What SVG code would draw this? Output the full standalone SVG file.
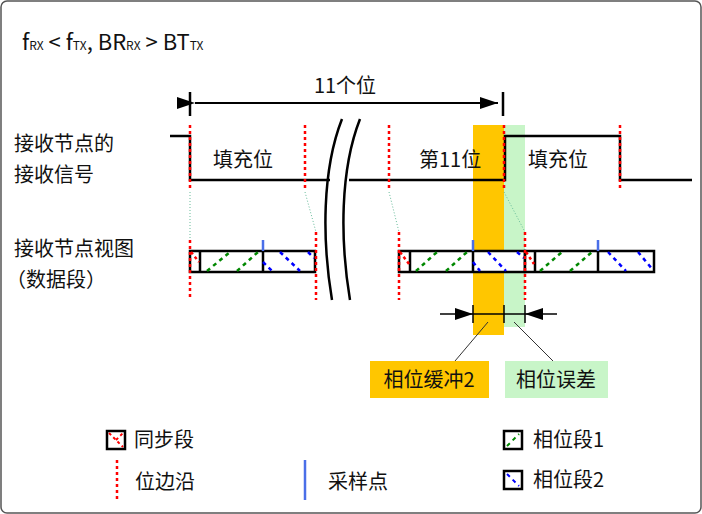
<svg xmlns="http://www.w3.org/2000/svg" width="702" height="514" viewBox="0 0 702 514">
<style>
text{font-family:"Noto Sans CJK SC","Noto Sans",sans-serif;fill:#111}
.t{font-size:20px}
.edge{stroke:#f00;stroke-width:2.5;stroke-dasharray:3 3;fill:none}
.box{fill:#fff;stroke:#000;stroke-width:2.5}
.sep{stroke:#000;stroke-width:2.5}
.g{stroke:#080;stroke-width:2.5;stroke-dasharray:4 4}
.b{stroke:#00f;stroke-width:2.5;stroke-dasharray:4 4}
.r{stroke:#f00;stroke-width:2.5;stroke-dasharray:3 3}
.samp{stroke:#4a6fe8;stroke-width:2.5}
.gd{stroke:#6b9;stroke-width:1;stroke-dasharray:1 2}
.sig{stroke:#000;stroke-width:2.5;fill:none}
</style>
<defs>
<marker id="ab" markerWidth="18" markerHeight="12" refX="18" refY="6" orient="auto" markerUnits="userSpaceOnUse"><path d="M0,0L18,6L0,12z" fill="#000"/></marker>
</defs>
<rect x="1" y="1" width="700" height="512" rx="6" fill="#fff" stroke="#555" stroke-width="1.5"/>
<text x="22" y="50" style="font-size:22px">f<tspan font-size="12">RX</tspan> &lt; f<tspan font-size="12">TX</tspan>, BR<tspan font-size="12">RX</tspan> &gt; BT<tspan font-size="12">TX</tspan></text>
<g id="labels">
<text class="t" x="14" y="151">接收节点的</text>
<text class="t" x="14" y="182">接收信号</text>
<text class="t" x="14" y="256">接收节点视图</text>
<text class="t" x="6" y="287">（数据段）</text>
</g>
<g id="bands">
<rect x="473" y="125" width="31" height="210" fill="#ffc600"/>
<rect x="504" y="125" width="21" height="202" fill="#c8f5c8"/>
</g>
<g id="signal">
<path class="sig" d="M170,136H190V180H330M349,180H505V136H620V180H692"/>
<text class="t" x="213" y="167">填充位</text>
<text class="t" x="419" y="167">第11位</text>
<text class="t" x="528" y="167">填充位</text>
</g>
<g id="break">
<path d="M342,119C322,170 322,240 332,300" fill="none" stroke="#000" stroke-width="2.5"/>
<path d="M360,119C340,170 340,240 350,300" fill="none" stroke="#000" stroke-width="2.5"/>
</g>
<g id="span11">
<line class="sep" x1="190" y1="92" x2="190" y2="116"/>
<line class="sep" x1="503" y1="92" x2="503" y2="116"/>
<line class="sep" x1="195" y1="103" x2="498" y2="103" marker-start="url(#ab)" marker-end="url(#ab)" style="stroke-width:2"/>
<text x="345" y="93" text-anchor="middle" style="font-size:20px">11个位</text>
</g>
<g id="bit1">
<rect class="box" x="190" y="251" width="125" height="21"/>
<line class="sep" x1="200" y1="251" x2="200" y2="272"/><line class="sep" x1="263" y1="251" x2="263" y2="272"/>
<line class="r" x1="191" y1="252" x2="199" y2="262"/>
<line class="g" x1="207" y1="271" x2="230" y2="252"/><line class="g" x1="237" y1="271" x2="258" y2="252"/>
<line class="b" x1="263" y1="262" x2="272" y2="271"/><line class="b" x1="280" y1="252" x2="300" y2="271"/><line class="b" x1="308" y1="252" x2="314" y2="258"/>
</g>
<g id="bit2">
<rect class="box" x="399" y="251" width="126" height="21"/>
<line class="sep" x1="410" y1="251" x2="410" y2="272"/><line class="sep" x1="473" y1="251" x2="473" y2="272"/>
<line class="r" x1="400" y1="252" x2="409" y2="264"/>
<line class="g" x1="416" y1="271" x2="437" y2="252"/><line class="g" x1="446" y1="271" x2="467" y2="252"/>
<line class="b" x1="473" y1="262" x2="480" y2="271"/><line class="b" x1="488" y1="252" x2="506" y2="271"/><line class="b" x1="517" y1="252" x2="524" y2="258"/>
</g>
<g id="bit3">
<rect class="box" x="525" y="251" width="129" height="21"/>
<line class="sep" x1="535" y1="251" x2="535" y2="272"/><line class="sep" x1="598" y1="251" x2="598" y2="272"/>
<line class="r" x1="526" y1="252" x2="534" y2="264"/>
<line class="g" x1="540" y1="271" x2="562" y2="252"/><line class="g" x1="570" y1="271" x2="592" y2="252"/>
<line class="b" x1="608" y1="252" x2="626" y2="271"/><line class="b" x1="638" y1="252" x2="653" y2="270"/>
</g>
<g id="edges">
<line class="edge" x1="190" y1="125" x2="190" y2="190"/>
<line class="edge" x1="305" y1="125" x2="305" y2="190"/>
<line class="edge" x1="389" y1="125" x2="389" y2="190"/>
<line class="edge" x1="504" y1="125" x2="504" y2="190"/>
<line class="edge" x1="620" y1="125" x2="620" y2="190"/>
<line class="edge" x1="190" y1="240" x2="190" y2="300"/>
<line class="edge" x1="316" y1="232" x2="316" y2="300"/>
<line class="edge" x1="399" y1="232" x2="399" y2="300"/>
<line class="edge" x1="525" y1="232" x2="525" y2="300"/>
<line class="samp" x1="263" y1="240" x2="263" y2="251"/>
<line class="samp" x1="473" y1="240" x2="473" y2="251"/>
<line class="samp" x1="598" y1="240" x2="598" y2="251"/>
</g>
<g id="connectors">
<line class="gd" x1="190" y1="192" x2="190" y2="240"/>
<line class="gd" x1="305" y1="192" x2="316" y2="232"/>
<line class="gd" x1="389" y1="192" x2="399" y2="232"/>
<line class="gd" x1="504" y1="192" x2="525" y2="232"/>
<line stroke="#000" stroke-width="1.5" x1="473" y1="305" x2="473" y2="323"/>
<line stroke="#000" stroke-width="1.5" x1="504" y1="305" x2="504" y2="323"/>
<line stroke="#000" stroke-width="1.5" x1="525" y1="305" x2="525" y2="323"/>
<line stroke="#000" stroke-width="1.5" x1="440" y1="314" x2="473" y2="314" marker-end="url(#ab)"/>
<line stroke="#000" stroke-width="1.5" x1="473" y1="314" x2="525" y2="314"/>
<line stroke="#000" stroke-width="1.5" x1="557" y1="314" x2="525" y2="314" marker-end="url(#ab)"/>
<line stroke="#333" stroke-width="1" x1="488" y1="322" x2="455" y2="361"/>
<line stroke="#333" stroke-width="1" x1="514" y1="322" x2="553" y2="361"/>
</g>
<g id="callout1">
<rect x="370" y="361" width="119" height="37" fill="#ffc600"/>
<text class="t" x="429" y="387" text-anchor="middle">相位缓冲2</text>
</g>
<g id="callout2">
<rect x="505" y="361" width="103" height="37" fill="#c8f5c8"/>
<text class="t" x="556" y="387" text-anchor="middle">相位误差</text>
</g>
<g id="legend">
<rect x="107" y="431" width="18" height="18" fill="#fff" stroke="#000" stroke-width="2.5"/>
<line class="r" x1="109" y1="433" x2="123" y2="447" style="stroke-width:2"/><line class="r" x1="116" y1="440" x2="123" y2="433" style="stroke-width:2"/>
<text class="t" x="134" y="447">同步段</text>
<line class="edge" x1="117" y1="460" x2="117" y2="500"/>
<text class="t" x="135" y="489">位边沿</text>
<line class="samp" x1="305" y1="460" x2="305" y2="500"/>
<text class="t" x="328" y="489">采样点</text>
<rect x="504" y="431" width="18" height="18" fill="#fff" stroke="#000" stroke-width="2.5"/>
<line class="g" x1="507" y1="446" x2="519" y2="434" style="stroke-width:2"/>
<text class="t" x="533" y="447">相位段1</text>
<rect x="504" y="471" width="18" height="18" fill="#fff" stroke="#000" stroke-width="2.5"/>
<line class="b" x1="507" y1="474" x2="519" y2="486" style="stroke-width:2"/>
<text class="t" x="533" y="487">相位段2</text>
</g>
</svg>
